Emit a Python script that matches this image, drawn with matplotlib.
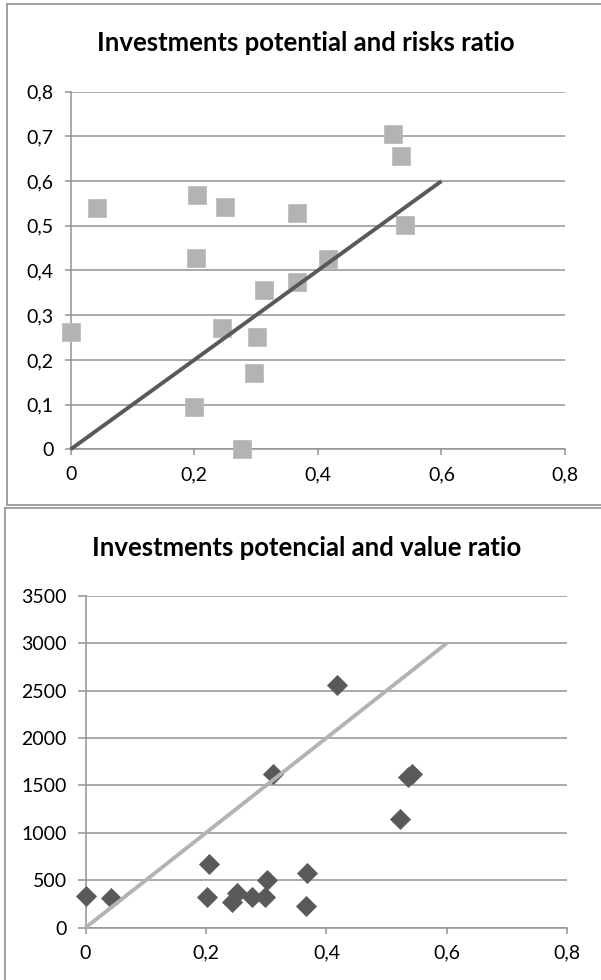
import matplotlib
matplotlib.use("Agg")
import matplotlib.pyplot as plt
from matplotlib.lines import Line2D
from matplotlib.ticker import FixedLocator, FixedFormatter

plt.rcParams['font.family'] = ['Lato', 'DejaVu Sans']

# ---- data: chart 1 (potential vs risks) ----
risk_x = [0.0, 0.043, 0.204, 0.203, 0.200, 0.250, 0.245, 0.277, 0.296, 0.301,
          0.313, 0.367, 0.366, 0.417, 0.521, 0.535, 0.541]
risk_y = [0.263, 0.540, 0.568, 0.429, 0.095, 0.543, 0.271, 0.0, 0.170, 0.252,
          0.356, 0.528, 0.375, 0.426, 0.705, 0.656, 0.501]
risk_trend_x = [0.0, 0.6]
risk_trend_y = [0.0, 0.6]

# ---- data: chart 2 (potential vs value) ----
value_x = [0.0, 0.043, 0.202, 0.205, 0.244, 0.251, 0.276, 0.298, 0.301, 0.311,
           0.367, 0.366, 0.418, 0.522, 0.536, 0.542]
value_y = [334, 316, 320, 671, 274, 369, 320, 320, 503, 1620,
           573, 229, 2558, 1142, 1592, 1620]
value_trend_x = [0.0, 0.6]
value_trend_y = [0, 3000]

x_ticks = [0, 0.2, 0.4, 0.6, 0.8]
x_labels = ['0', '0,2', '0,4', '0,6', '0,8']
risk_ticks = [0, 0.1, 0.2, 0.3, 0.4, 0.5, 0.6, 0.7, 0.8]
risk_labels = ['0', '0,1', '0,2', '0,3', '0,4', '0,5', '0,6', '0,7', '0,8']
value_ticks = [0, 500, 1000, 1500, 2000, 2500, 3000, 3500]
value_labels = ['0', '500', '1000', '1500', '2000', '2500', '3000', '3500']

title1 = 'Investments potential and risks ratio'
title2 = 'Investments potencial and value ratio'

W, H = 601, 980
fig = plt.figure(figsize=(W / 100, H / 100), dpi=100)
fig.patch.set_facecolor('white')

GRID = '#929292'
FRAME = '#a0a0a0'


def px(x0, y0, x1, y1):
    # pixel box (top-left origin) -> figure fraction [l, b, w, h]
    return [x0 / W, 1 - y1 / H, (x1 - x0) / W, (y1 - y0) / H]


def style(ax, yticks, ylabels, ylim, ytick_len):
    ax.set_xlim(0, 0.8)
    ax.set_ylim(*ylim)
    ax.xaxis.set_major_locator(FixedLocator(x_ticks))
    ax.xaxis.set_major_formatter(FixedFormatter(x_labels))
    ax.yaxis.set_major_locator(FixedLocator(yticks))
    ax.yaxis.set_major_formatter(FixedFormatter(ylabels))
    for s in ['top', 'right']:
        ax.spines[s].set_visible(False)
    for s in ['left', 'bottom']:
        ax.spines[s].set_color(GRID)
        ax.spines[s].set_linewidth(1.1)
    ax.yaxis.grid(True, color=GRID, linewidth=1.1)
    ax.set_axisbelow(True)
    ax.tick_params(axis='y', length=ytick_len, width=1.1, color=GRID,
                   direction='out', pad=8, labelsize=14, labelcolor='black')
    ax.tick_params(axis='x', length=4.3, width=1.1, color=GRID,
                   direction='out', pad=8, labelsize=14, labelcolor='black')
    ax.set_facecolor('none')


# ---- chart 1 ----
ax1 = fig.add_axes(px(70.7, 91.7, 565, 449.3))
style(ax1, risk_ticks, risk_labels, (0, 0.8), 4.3)
ax1.plot(risk_x, risk_y, linestyle='none', marker='s', markersize=13.5,
         markerfacecolor='#b3b3b3', markeredgecolor='#bdbdbd',
         markeredgewidth=0.6, clip_on=False, zorder=3)
ax1.plot(risk_trend_x, risk_trend_y, color='#595959', linewidth=2.8,
         solid_capstyle='butt', clip_on=False, zorder=4)

# ---- chart 2 ----
ax2 = fig.add_axes(px(85.5, 595.7, 567.3, 927.7))
style(ax2, value_ticks, value_labels, (0, 3500), 5.6)
ax2.plot(value_x, value_y, linestyle='none', marker='D', markersize=10.3,
         markerfacecolor='#595959', markeredgecolor='#5f5f5f',
         markeredgewidth=0.6, clip_on=False, zorder=3)
ax2.plot(value_trend_x, value_trend_y, color='#b3b3b3', linewidth=2.8,
         solid_capstyle='butt', clip_on=False, zorder=4)

# ---- titles ----
fig.text(306 / W, 1 - 43 / H, title1, ha='center', va='center',
         fontsize=18.5, fontweight='bold', color='black')
fig.text(307 / W, 1 - 548 / H, title2, ha='center', va='center',
         fontsize=18.5, fontweight='bold', color='black')

# ---- chart frames ----
def fline(xs, ys):
    fig.add_artist(Line2D([x / W for x in xs], [1 - y / H for y in ys],
                          color=FRAME, linewidth=1.4,
                          transform=fig.transFigure))

fline([7, 7], [4, 505])
fline([7, 601], [4, 4])
fline([7, 601], [505, 505])
fline([4.7, 4.7], [508, 980])
fline([4.7, 601], [508, 508])

fig.savefig('out.png', dpi=100, facecolor='white')
